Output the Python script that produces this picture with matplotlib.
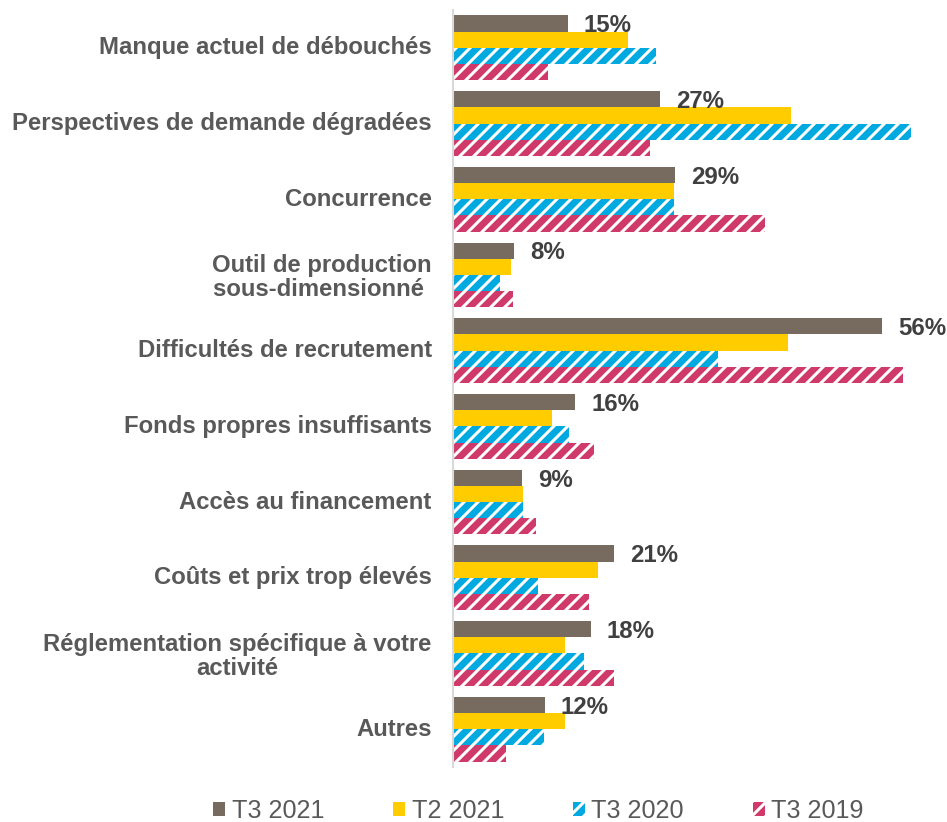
import matplotlib
matplotlib.use("Agg")
import matplotlib.pyplot as plt
import numpy as np
from matplotlib.patches import Patch

DPI = 84
W_PX, H_PX = 947, 822

categories = [
    "Manque actuel de débouchés",
    "Perspectives de demande dégradées",
    "Concurrence",
    "Outil de production\nsous-dimensionné ",
    "Difficultés de recrutement",
    "Fonds propres insuffisants",
    "Accès au financement",
    "Coûts et prix trop élevés",
    "Réglementation spécifique à votre\nactivité",
    "Autres",
]
series_names = ["T3 2021", "T2 2021", "T3 2020", "T3 2019"]
t3_2021 = [15, 27, 29, 8, 56, 16, 9, 21, 18, 12]
t2_2021 = [22.9, 44.2, 28.9, 7.6, 43.8, 13.0, 9.2, 19.0, 14.7, 14.7]
t3_2020 = [26.5, 59.8, 28.9, 6.2, 34.6, 15.2, 9.2, 11.1, 17.1, 11.9]
t3_2019 = [12.5, 25.7, 40.8, 7.9, 58.8, 18.5, 10.9, 17.8, 21.1, 6.9]

colors = ["#776B5F", "#FFCC00", "#00A9E0", "#CF3A6B"]
hatches = [None, None, "//", "//"]

plt.rcParams["font.family"] = ["Liberation Sans", "DejaVu Sans"]
plt.rcParams["hatch.linewidth"] = 2.6

fig = plt.figure(figsize=(W_PX / DPI, H_PX / DPI), dpi=DPI)
ax_left = 452.7 / W_PX
ax_bottom = 1 - 767 / H_PX
ax = fig.add_axes([ax_left, ax_bottom, 940 / W_PX - ax_left, 757 / H_PX])

px_per_pct = 7.66
ax.set_xlim(0, (940 - 452.7) / px_per_pct)
ax.set_ylim(9.5, -0.5)

y = np.arange(len(categories))
bar_h = 0.214
all_series = [t3_2021, t2_2021, t3_2020, t3_2019]
for i, (vals, col, hat) in enumerate(zip(all_series, colors, hatches)):
    offset = (i - 1.5) * bar_h
    if hat:
        ax.barh(y + offset, vals, height=bar_h, color=col, edgecolor="white",
                linewidth=0, hatch=hat)
    else:
        ax.barh(y + offset, vals, height=bar_h, color=col, linewidth=0)

# value labels on T3 2021 bars
for yi, v in zip(y, t3_2021):
    ax.annotate(f"{v}%", xy=(v, yi - 1.5 * bar_h + 0.03), xytext=(14, 0),
                textcoords="offset points", ha="left", va="center",
                fontsize=20.6, fontweight="bold", color="#404040")

ax.set_yticks(y)
ax.set_yticklabels(categories, fontsize=20.5, fontweight="bold", color="#595959")
for t in ax.get_yticklabels():
    t.set_multialignment("center")
    t.set_linespacing(1.05)
    if "\n" not in t.get_text():
        t.set_verticalalignment("center")
ax.tick_params(axis="y", length=0, pad=18)
ax.set_xticks([])

for side in ["top", "right", "bottom"]:
    ax.spines[side].set_visible(False)
ax.spines["left"].set_color("#D9D9D9")
ax.spines["left"].set_linewidth(1.8)

handles = []
for name, col, hat in zip(series_names, colors, hatches):
    if hat:
        handles.append(Patch(facecolor=col, edgecolor="white", linewidth=0,
                             hatch=hat, label=name))
    else:
        handles.append(Patch(facecolor=col, linewidth=0, label=name))

leg = fig.legend(handles=handles, loc="center", ncol=4, frameon=False,
                 bbox_to_anchor=(538.5 / W_PX, 1 - 811 / H_PX),
                 fontsize=21.5, handlelength=0.48, handleheight=0.48,
                 handletextpad=0.25, columnspacing=2.75)
for txt in leg.get_texts():
    txt.set_color("#595959")

fig.savefig("out.png", dpi=DPI)
